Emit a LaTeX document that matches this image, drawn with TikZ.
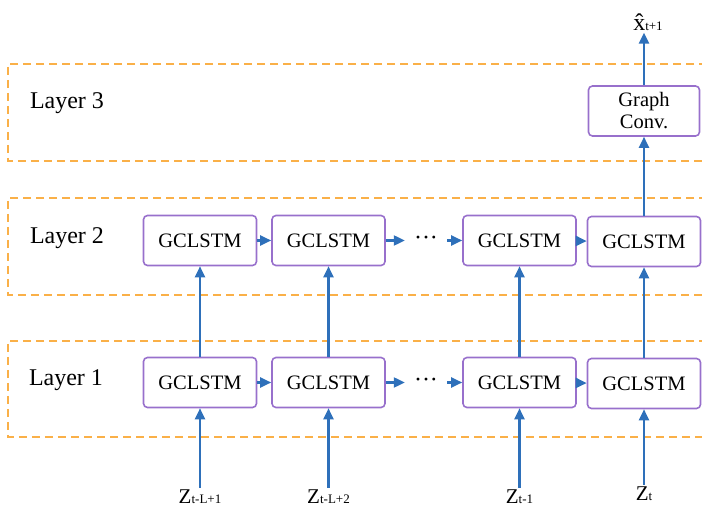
\documentclass[tikz,border=0pt]{standalone}
\usepackage{fontspec}
\setmainfont{Liberation Serif}
\usetikzlibrary{arrows.meta}

\definecolor{cellpurple}{RGB}{152,112,204}
\definecolor{linkblue}{RGB}{46,112,186}
\definecolor{layerorange}{RGB}{250,176,72}

\newcommand{\zsub}[1]{Z{\fontsize{13}{13}\selectfont #1}}

\begin{document}
\begin{tikzpicture}[
    x=1pt, y=-1pt,
    cell/.style={draw=cellpurple, line width=1.6pt, rounded corners=4pt,
        minimum width=113pt, minimum height=50pt, inner sep=0pt,
        align=center, font=\fontsize{20.5}{22}\selectfont},
    lab/.style={font=\fontsize{24}{26}\selectfont},
    input/.style={inner sep=2pt, font=\fontsize{21}{22}\selectfont},
    dots/.style={minimum width=42pt, inner sep=0pt, font=\fontsize{24}{24}\selectfont},
    layer/.style={draw=layerorange, line width=1.8pt, dash pattern=on 8pt off 5pt},
    link/.style={draw=linkblue, line width=2.2pt, -{Triangle[length=11pt,width=10pt]}}
]
    \useasboundingbox (0,0) rectangle (702,510);
    \clip (0,0) rectangle (702,510);

    % Layer frames (open to the right)
    \draw[layer] (720,64) -- (8,64) -- (8,161) -- (720,161);
    \draw[layer] (720,198) -- (8,198) -- (8,295) -- (720,295);
    \draw[layer] (720,341) -- (8,341) -- (8,437) -- (720,437);

    \node[lab] (lay3) at (67,103) {Layer 3};
    \node[lab] (lay2) at (67,238) {Layer 2};
    \node[lab] (lay1) at (66,380) {Layer 1};

    % Layer 1
    \node[cell] (c11) at (200,382.5) {GCLSTM};
    \node[cell] (c12) at (328.5,382.5) {GCLSTM};
    \node[dots] (d1) at (426,382.5) {\raisebox{-3pt}{···}};
    \node[cell] (c13) at (519.5,382.5) {GCLSTM};
    \node[cell] (c14) at (644,383.5) {GCLSTM};

    % Layer 2
    \node[cell] (c21) at (200,240.5) {GCLSTM};
    \node[cell] (c22) at (328.5,240.5) {GCLSTM};
    \node[dots] (d2) at (426,240.5) {\raisebox{-3pt}{···}};
    \node[cell] (c23) at (519.5,240.5) {GCLSTM};
    \node[cell] (c24) at (644,241.5) {GCLSTM};

    % Layer 3
    \node[cell, minimum width=111pt] (g) at (644,111) {Graph\\Conv.};

    % Inputs and output
    \node[input] (z1) at (200,497) {\zsub{t-L+1}};
    \node[input] (z2) at (328.5,497) {\zsub{t-L+2}};
    \node[input] (z3) at (519.5,497) {\zsub{t-1}};
    \node[input] (z4) at (644,494) {\zsub{t}};
    \node[input, font=\fontsize{24}{24}\selectfont] (xh) at (648,22)
        {\^{x}{\fontsize{13}{13}\selectfont t+1}};

    % Recurrent links
    \draw[link] (c11) -- (c12);
    \draw[link] (c12) -- (d1);
    \draw[link] (d1) -- (c13);
    \draw[link] (c13) -- (c14);
    \draw[link] (c21) -- (c22);
    \draw[link] (c22) -- (d2);
    \draw[link] (d2) -- (c23);
    \draw[link] (c23) -- (c24);

    % Vertical links
    \draw[link] (z1) -- (c11);
    \draw[link] (z2) -- (c12);
    \draw[link] (z3) -- (c13);
    \draw[link] (z4) -- (c14);
    \draw[link] (c11) -- (c21);
    \draw[link] (c12) -- (c22);
    \draw[link] (c13) -- (c23);
    \draw[link] (c14) -- (c24);
    \draw[link] (c24) -- (g);
    \draw[link] (g) -- (xh.south -| g);
\end{tikzpicture}
\end{document}
